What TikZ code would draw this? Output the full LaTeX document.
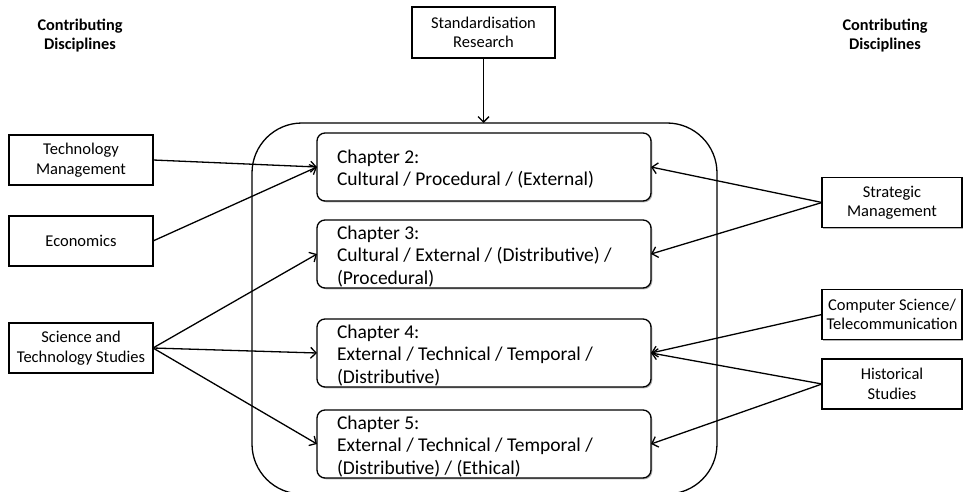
\documentclass[tikz,border=0pt]{standalone}
\usepackage{fontspec}
\setmainfont{Carlito}
\usetikzlibrary{arrows.meta,shadows}

\begin{document}
\begin{tikzpicture}[x=1pt,y=-1pt,
  every node/.style={inner sep=0pt, outer sep=0pt},
  boxshadow/.style={drop shadow={shadow xshift=1.3pt, shadow yshift=-1.3pt, opacity=0.3, fill=black}},
  discbox/.style={draw, line width=1.3pt, fill=white, boxshadow,
    minimum width=144pt, minimum height=50pt, align=center,
    font=\fontsize{16.5}{19.5}\selectfont},
  chapbox/.style={draw, line width=1.3pt, fill=white, boxshadow, rounded corners=8pt,
    minimum width=334pt, minimum height=68pt},
  chaptext/.style={anchor=base west, font=\fontsize{19.5}{22.5}\selectfont},
  heading/.style={align=center, font=\fontsize{16.3}{19.5}\selectfont\bfseries},
  link/.style={line width=1.3pt, -{Straight Barb[length=5.5pt,width=11pt]}}
]
\clip (0,0) rectangle (963,492);

% headings over the two columns of disciplines
\node[heading] (hl) at (80,35.5) {Contributing\\Disciplines};
\node[heading] (hr) at (885,35.5) {Contributing\\Disciplines};

% enclosing frame of the chapters
\node[draw, line width=1.3pt, rounded corners=50pt, minimum width=465pt, minimum height=371pt]
  (frame) at (484.5,308.5) {};

% top source
\node[discbox, minimum width=143pt, minimum height=51pt] (std) at (483.5,32.5) {Standardisation\\Research};

% chapters
\node[chapbox] (ch2) at (484,167) {};
\node[chapbox] (ch3) at (484,254) {};
\node[chapbox] (ch4) at (484,353) {};
\node[chapbox] (ch5) at (484,444) {};

\node[chaptext] (t2) at (337,163) {\begin{tabular}[t]{@{}l@{}}Chapter 2:\\Cultural / Procedural / (External)\end{tabular}};
\node[chaptext] (t3) at (337,239) {\begin{tabular}[t]{@{}l@{}}Chapter 3:\\Cultural / External / (Distributive) /\\(Procedural)\end{tabular}};
\node[chaptext] (t4) at (337,338) {\begin{tabular}[t]{@{}l@{}}Chapter 4:\\External / Technical / Temporal /\\(Distributive)\end{tabular}};
\node[chaptext] (t5) at (337,429) {\begin{tabular}[t]{@{}l@{}}Chapter 5:\\External / Technical / Temporal /\\(Distributive) / (Ethical)\end{tabular}};

% left disciplines
\node[discbox] (tm) at (81,160) {Technology\\Management};
\node[discbox] (eco) at (81,241) {Economics};
\node[discbox] (sts) at (81,348) {Science and\\Technology Studies};

% right disciplines
\node[discbox, minimum width=140pt] (sm) at (892,202.5) {Strategic\\Management};
\node[discbox, minimum width=140pt] (cs) at (892,314.5) {Computer Science/\\Telecommunication};
\node[discbox, minimum width=140pt] (hs) at (892,384) {Historical\\Studies};

% connectors
\draw[link] (std.south) -- (std.south |- frame.north);
\draw[link] (tm.east) -- (ch2.west);
\draw[link] (eco.east) -- (ch2.west);
\draw[link] (sts.east) -- (ch3.west);
\draw[link] (sts.east) -- (ch4.west);
\draw[link] (sts.east) -- (ch5.west);
\draw[link] (sm.west) -- (ch2.east);
\draw[link] (sm.west) -- (ch3.east);
\draw[link] (cs.west) -- (ch4.east);
\draw[link] (hs.west) -- (ch4.east);
\draw[link] (hs.west) -- (ch5.east);
\end{tikzpicture}
\end{document}
